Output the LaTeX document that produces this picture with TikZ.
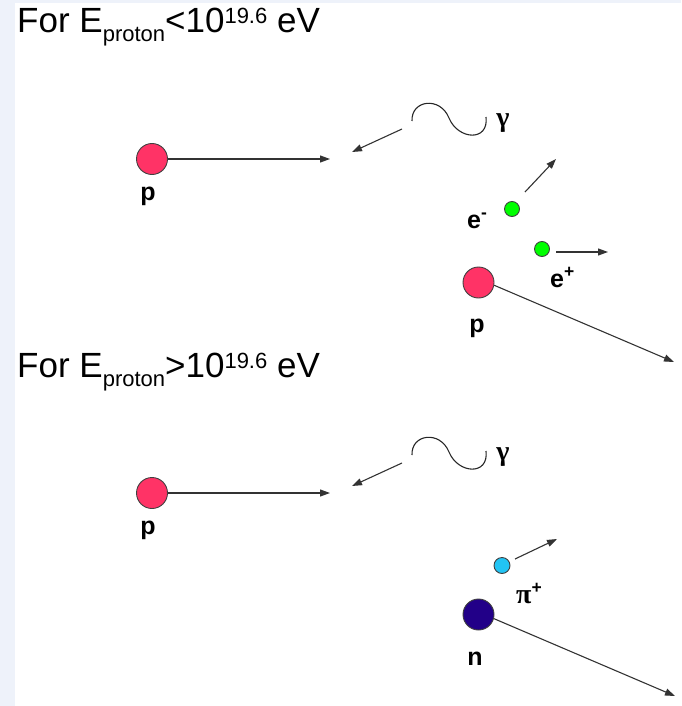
\documentclass[tikz,border=0pt]{standalone}
\usepackage{fontspec}
\setmainfont{Liberation Sans}
\newfontfamily\greekfont{Liberation Serif}
\usetikzlibrary{arrows.meta}
\definecolor{bgstrip}{HTML}{EEF2FA}
\definecolor{protonred}{HTML}{FF3366}
\definecolor{elgreen}{HTML}{00FF00}
\definecolor{pionblue}{HTML}{22C4F4}
\definecolor{neutronblue}{HTML}{220088}
\newcommand{\subtxt}[1]{\raisebox{-9pt}{\fontsize{22}{22}\selectfont #1}}
\newcommand{\suptxt}[1]{\raisebox{9pt}{\fontsize{22}{22}\selectfont #1}}
\begin{document}
\begin{tikzpicture}[x=1pt,y=-1pt,
  particle/.style={circle, draw=black!75, line width=0.9pt, inner sep=0pt},
  bigp/.style={particle, minimum size=31pt},
  smallp/.style={particle, minimum size=15pt},
  arr/.style={draw=black!80, line width=1.1pt, -{Triangle[length=10pt,width=7pt]}},
  wave/.style={draw=black!85, line width=1.1pt},
  lbl/.style={font=\fontsize{25}{25}\selectfont\bfseries, inner sep=0pt, anchor=base},
  lblw/.style={lbl, anchor=base west},
  glbl/.style={lbl, font=\fontsize{28}{28}\selectfont\bfseries\greekfont},
  title/.style={font=\fontsize{35}{35}\selectfont, inner sep=0pt, anchor=base west}]
\useasboundingbox (0,0) rectangle (681,706);
\fill[bgstrip] (0,0) rectangle (15,706);
\fill[bgstrip] (0,0) rectangle (681,3);

% ---------- upper panel ----------
\node[title] (t1) at (17,33) {For E\subtxt{proton}<10\suptxt{19.6} eV};

\node[bigp, fill=protonred] (p1) at (152,159) {};
\coordinate (p1end) at (330,159);
\draw[arr] (p1.east) -- (p1end);
\node[lbl] (p1l) at (148,200) {p};

\coordinate (g1s) at (412,121);
\coordinate (g1m) at (449,118);
\coordinate (g1e) at (486,117);
\draw[wave] (g1s) .. controls (411,100) and (440,96) .. (g1m) .. controls (458,140) and (489,142) .. (g1e);
\coordinate (g1a) at (402,129);
\coordinate (g1b) at (352,152);
\draw[arr] (g1a) -- (g1b);
\node[glbl] (g1l) at (503,126) {γ};

\node[smallp, fill=elgreen] (em) at (512,209) {};
\coordinate (emstart) at (525,192);
\coordinate (emend) at (556,159);
\draw[arr] (emstart) -- (emend);
\node[lblw] (eml) at (467,228) {e\textsuperscript{-}};

\node[smallp, fill=elgreen] (ep) at (542,249) {};
\coordinate (epstart) at (556,252);
\coordinate (epend) at (608,252);
\draw[arr] (epstart) -- (epend);
\node[lblw] (epl) at (550,287) {e\textsuperscript{+}};

\node[bigp, fill=protonred] (p2) at (478.5,282.5) {};
\coordinate (p2end) at (674,362);
\draw[arr] (p2.-10) -- (p2end);
\node[lbl] (p2l) at (477,332) {p};

% ---------- lower panel ----------
\node[title] (t2) at (17,377) {For E\subtxt{proton}>10\suptxt{19.6} eV};

\node[bigp, fill=protonred] (p3) at (152,493) {};
\coordinate (p3end) at (330,493);
\draw[arr] (p3.east) -- (p3end);
\node[lbl] (p3l) at (148,534) {p};

\coordinate (g2s) at (412,455);
\coordinate (g2m) at (449,452);
\coordinate (g2e) at (486,451);
\draw[wave] (g2s) .. controls (411,434) and (440,430) .. (g2m) .. controls (458,474) and (489,476) .. (g2e);
\coordinate (g2a) at (402,463);
\coordinate (g2b) at (352,486);
\draw[arr] (g2a) -- (g2b);
\node[glbl] (g2l) at (503,460) {γ};

\node[smallp, fill=pionblue, minimum size=16pt] (pi) at (502,565.5) {};
\coordinate (pistart) at (515,559);
\coordinate (piend) at (557,539);
\draw[arr] (pistart) -- (piend);
\node[lblw] (pil) at (516,603) {{\greekfont\fontsize{28}{28}\selectfont π}\textsuperscript{+}};

\node[bigp, fill=neutronblue] (n) at (478.5,614.5) {};
\coordinate (nend) at (675,696);
\draw[arr] (n.-15) -- (nend);
\node[lbl] (nl) at (475,665) {n};
\end{tikzpicture}
\end{document}
